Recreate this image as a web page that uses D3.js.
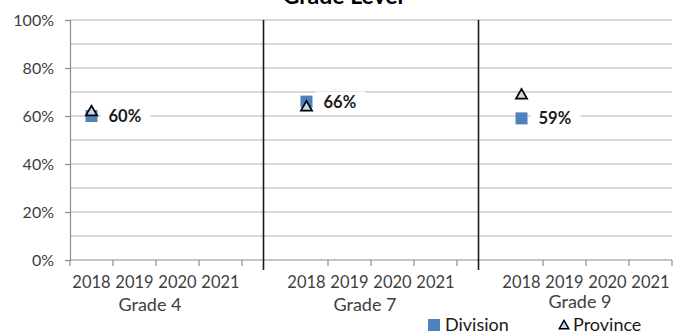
<!DOCTYPE html>
<html>
<head>
<meta charset="utf-8">
<script src="https://cdn.jsdelivr.net/npm/d3@7"></script>
<style>
  html, body { margin: 0; padding: 0; background: #fff; }
  svg { display: block; font-family: Lato, "Open Sans", sans-serif; }
</style>
</head>
<body>
<svg id="chart" width="673" height="335"></svg>
<script>
// Grades shown along the x axis, each with its school years
const grades = ["Grade 4", "Grade 7", "Grade 9"];
const years = ["2018", "2019", "2020", "2021"];

// Percent results per grade, one entry per year (null = no result yet)
const division = [
  [60, null, null, null],
  [66, null, null, null],
  [59, null, null, null]
];
const province = [
  [62, null, null, null],
  [64, null, null, null],
  [69, null, null, null]
];

const yTicks = [0, 20, 40, 60, 80, 100];
const gridValues = [10, 20, 30, 40, 50, 60, 70, 80, 90, 100];

const svg = d3.select("#chart");
const margin = { left: 70, right: 1, top: 20, bottom: 75 };
const W = 673, H = 335;

// Category list: the four years per grade, with a spacer slot between grades
const cats = [];
grades.forEach((g, gi) => {
  years.forEach((y, yi) => cats.push({ key: g + "|" + y, label: y, grade: gi, year: yi }));
  if (gi < grades.length - 1) cats.push({ key: g + "|gap", label: "", grade: gi, gap: true });
});

const x = d3.scaleBand().domain(cats.map(c => c.key)).range([margin.left, W - margin.right]).padding(0);
const y = d3.scaleLinear().domain([0, 100]).range([H - margin.bottom, margin.top]);

const textColor = "#404040";

// Title (runs off the top of the frame)
svg.append("text")
  .attr("x", 343).attr("y", 4)
  .attr("text-anchor", "middle")
  .attr("font-size", 23).attr("font-weight", "bold").attr("fill", "#000")
  .text("Grade Level");

// Horizontal gridlines
svg.append("g").selectAll("line").data(gridValues).join("line")
  .attr("x1", margin.left).attr("x2", W - margin.right)
  .attr("y1", d => y(d)).attr("y2", d => y(d))
  .attr("stroke", "#cbcbcb").attr("stroke-width", 1.5);

// Y axis
const yAxis = d3.axisLeft(y).tickValues(yTicks).tickFormat(d => d + "%").tickSize(5).tickPadding(11);
const gy = svg.append("g").attr("transform", `translate(${margin.left},0)`).call(yAxis);
gy.select(".domain").attr("stroke", "#8c8c8c").attr("stroke-width", 1.2);
gy.selectAll(".tick line").attr("stroke", "#8c8c8c").attr("stroke-width", 1.2);
gy.selectAll(".tick text").attr("font-size", 16).attr("fill", textColor).attr("font-family", "Lato, sans-serif");

// X axis baseline and tick marks at category boundaries (none on a spacer's right edge)
const xBase = y(0);
svg.append("line")
  .attr("x1", margin.left).attr("x2", W - margin.right)
  .attr("y1", xBase).attr("y2", xBase)
  .attr("stroke", "#8c8c8c").attr("stroke-width", 1.2);
const boundaries = cats.map(c => x(c.key)).concat([x(cats[cats.length - 1].key) + x.bandwidth()]);
svg.append("g").selectAll("line").data(boundaries.filter((b, i) => !(i > 0 && cats[i - 1].gap))).join("line")
  .attr("x1", d => d).attr("x2", d => d)
  .attr("y1", xBase).attr("y2", xBase + 6)
  .attr("stroke", "#8c8c8c").attr("stroke-width", 1.2);

// Year labels
svg.append("g").selectAll("text").data(cats.filter(c => !c.gap)).join("text")
  .attr("x", c => x(c.key) + x.bandwidth() / 2)
  .attr("y", xBase + 28)
  .attr("text-anchor", "middle")
  .attr("font-size", 16.5).attr("fill", textColor)
  .text(c => c.label);

// Grade labels under each group of years
svg.append("g").selectAll("text").data(grades).join("text")
  .attr("x", g => {
    const first = x(g + "|" + years[0]);
    const last = x(g + "|" + years[years.length - 1]) + x.bandwidth();
    return (first + last) / 2 - 6;
  })
  .attr("y", (g, gi) => gi === 2 ? xBase + 48 : xBase + 51)
  .attr("text-anchor", "middle")
  .attr("font-size", 18).attr("fill", textColor)
  .text(g => g);

// Vertical separators between grade groups
svg.append("g").selectAll("line").data(cats.filter(c => c.gap)).join("line")
  .attr("x1", c => x(c.key) + x.bandwidth() / 2)
  .attr("x2", c => x(c.key) + x.bandwidth() / 2)
  .attr("y1", margin.top).attr("y2", xBase + 10)
  .attr("stroke", "#1a1a1a").attr("stroke-width", 1.6);

// Flatten series into points
const divPts = [], provPts = [];
grades.forEach((g, gi) => years.forEach((yr, yi) => {
  if (division[gi][yi] != null) divPts.push({ key: g + "|" + yr, v: division[gi][yi] });
  if (province[gi][yi] != null) provPts.push({ key: g + "|" + yr, v: province[gi][yi] });
}));

const blue = "#4f81bd";
const triFill = "#c6d9f1";
const sq = 12;

// Division markers (squares)
svg.append("g").selectAll("rect").data(divPts).join("rect")
  .attr("x", d => x(d.key) + x.bandwidth() / 2 - sq / 2)
  .attr("y", d => y(d.v) - sq / 2)
  .attr("width", sq).attr("height", sq)
  .attr("fill", blue);

// Province markers (triangles)
const tri = d3.symbol().type(d3.symbolTriangle).size(54);
svg.append("g").selectAll("path").data(provPts).join("path")
  .attr("transform", d => `translate(${x(d.key) + x.bandwidth() / 2},${y(d.v) + 1})`)
  .attr("d", tri)
  .attr("fill", triFill).attr("stroke", "#000").attr("stroke-width", 1.7);

// Division value labels with a white backing box
const lbl = svg.append("g").selectAll("g").data(divPts).join("g")
  .attr("transform", d => `translate(${x(d.key) + x.bandwidth() / 2 + 17},${y(d.v)})`);
lbl.append("rect")
  .attr("x", -8).attr("y", -10).attr("width", 50).attr("height", 20)
  .attr("fill", "#fff");
lbl.append("text")
  .attr("x", 0).attr("y", 6)
  .attr("font-size", 16.5).attr("font-weight", "bold").attr("fill", "#1a1a1a")
  .text(d => d.v + "%");

// Legend
const legend = svg.append("g").attr("transform", "translate(428,325)");
legend.append("rect").attr("x", 0).attr("y", -6).attr("width", 12).attr("height", 12).attr("fill", blue);
legend.append("text").attr("x", 17).attr("y", 6).attr("font-size", 18).attr("fill", "#1a1a1a").text("Division");
legend.append("path")
  .attr("transform", "translate(136,1)")
  .attr("d", d3.symbol().type(d3.symbolTriangle).size(40))
  .attr("fill", triFill).attr("stroke", "#000").attr("stroke-width", 1.4);
legend.append("text").attr("x", 145).attr("y", 6).attr("font-size", 18).attr("fill", "#1a1a1a").text("Province");
</script>
</body>
</html>
